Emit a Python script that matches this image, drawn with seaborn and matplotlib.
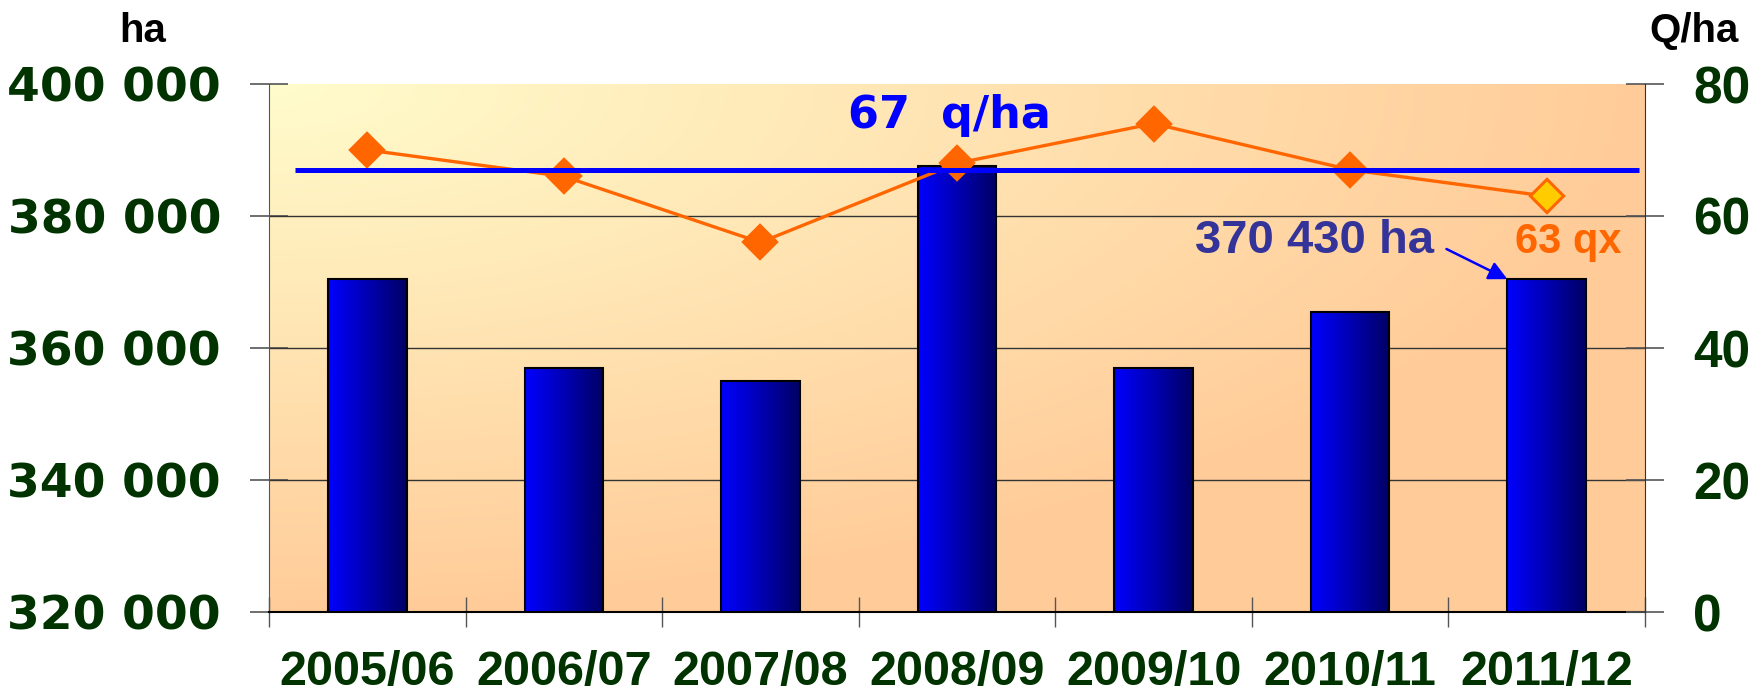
import numpy as np
import matplotlib
matplotlib.use("Agg")
import matplotlib.pyplot as plt
from matplotlib.colors import LinearSegmentedColormap, to_rgb
import seaborn as sns

# data
seasons = ["2005/06", "2006/07", "2007/08", "2008/09", "2009/10", "2010/11", "2011/12"]
areas = [370400, 357000, 355000, 387600, 357000, 365400, 370430]   # ha, left axis
yields = [70, 66, 56, 68, 74, 67, 63]                               # q/ha, right axis
avg_yield = 67
left_ticks = [320000, 340000, 360000, 380000, 400000]
right_ticks = [0, 20, 40, 60, 80]

green = "#003300"
orange = "#FF6600"
blue = "#0000FF"

sns.set_style("white")
plt.rcParams["font.family"] = ["Liberation Sans", "DejaVu Sans"]
plt.rcParams["font.weight"] = "bold"

fig = plt.figure(figsize=(17.6, 6.97), dpi=100)
ax = fig.add_axes([269 / 1760, 85 / 697, 1376 / 1760, 528 / 697])
ax2 = ax.twinx()

n = len(seasons)
ax.set_xlim(-0.5, n - 0.5)
ax.set_ylim(left_ticks[0], left_ticks[-1])

# background gradient: pale yellow top-left to peach right/bottom
gx, gy = np.meshgrid(np.linspace(0, 1, 400), np.linspace(0, 1, 200))
t = np.clip(np.sqrt(gx ** 2 + gy ** 2), 0, 1)[..., None]
c0 = np.array(to_rgb("#FFFCCC"))
c1 = np.array(to_rgb("#FFCC99"))
bg = c0 * (1 - t) + c1 * t
ax.imshow(bg, extent=[-0.5, n - 0.5, left_ticks[0], left_ticks[-1]],
          aspect="auto", origin="upper", zorder=0)

# grid lines
for v in left_ticks[1:-1]:
    ax.axhline(v, color="#333333", lw=1.0, zorder=1)

# bars
sns.barplot(x=seasons, y=areas, ax=ax, width=0.4, color=blue,
            edgecolor="black", linewidth=1.5, zorder=3)
bar_cmap = LinearSegmentedColormap.from_list("bars", [blue, "#000066"])
grad = np.linspace(0, 1, 100)[None, :]
for p in ax.patches:
    x0 = p.get_x()
    w = p.get_width()
    h = p.get_height()
    ax.imshow(grad, cmap=bar_cmap, extent=[x0, x0 + w, 0, h], aspect="auto", zorder=2)
    p.set_facecolor("none")
ax.set_xlim(-0.5, n - 0.5)
ax.set_ylim(left_ticks[0], left_ticks[-1])

# yield line
sns.pointplot(x=seasons, y=yields, ax=ax2, color=orange, markers="D",
              markersize=17, linewidth=2.4, errorbar=None)
ax2.plot(n - 1, yields[-1], marker="D", markersize=16, color="#FFCC00",
         markeredgecolor=orange, markeredgewidth=1.5, zorder=5)
ax2.hlines(avg_yield, -0.37, n - 0.53, color=blue, lw=3.6, zorder=4)
ax2.set_ylim(right_ticks[0], right_ticks[-1])
ax2.set_xlim(-0.5, n - 0.5)

# axes styling
for a in (ax, ax2):
    a.set_xlabel("")
    a.set_ylabel("")
    for s in a.spines.values():
        s.set_visible(False)
ax.spines["left"].set_visible(True)
ax.spines["left"].set_color("#555555")
ax.spines["bottom"].set_visible(True)
ax.spines["bottom"].set_color("black")
ax.spines["bottom"].set_linewidth(1.5)
ax2.spines["right"].set_visible(True)
ax2.spines["right"].set_color("#333333")

ax.set_yticks(left_ticks)
ax.set_yticklabels([f"{v:,}".replace(",", " ") for v in left_ticks],
                   fontsize=34, color=green, fontweight="bold", family="DejaVu Sans")
ax.tick_params(axis="y", direction="inout", length=27, width=1.2, color="#555555",
               pad=21, left=True)
ax2.set_yticks(right_ticks)
ax2.set_yticklabels([str(v) for v in right_ticks], fontsize=37, color=green, fontweight="bold")
ax2.tick_params(axis="y", direction="inout", length=27, width=1.2, color="#555555",
                pad=21, right=True)

ax.set_xticks(range(n))
ax.set_xticklabels(seasons, fontsize=35, color=green, fontweight="bold")
ax.set_xticks(np.arange(n + 1) - 0.5, minor=True)
ax.tick_params(axis="x", which="major", length=0, pad=27)
ax.tick_params(axis="x", which="minor", direction="inout", length=22, width=1, color="#555555",
               bottom=True)
ax2.tick_params(axis="x", which="both", bottom=False, top=False, labelbottom=False)

# annotations
ax2.text(2.96, 75.3, "67  q/ha", color=blue, fontsize=32, fontweight="bold",
         family="DejaVu Sans", ha="center", va="center", zorder=6)
ax.text(5.426, 376200, "370 430 ha", color="#333399", fontsize=34, fontweight="bold",
        ha="right", va="center", zorder=6)
ax.annotate("", xy=(n - 1 - 0.2, areas[-1]), xytext=(5.49, 375000),
            arrowprops=dict(arrowstyle="-|>", color=blue, lw=1.8, mutation_scale=28,
                            shrinkA=0, shrinkB=0), zorder=6)
ax2.text(6.11, 56.1, f"{yields[-1]} qx", color=orange, fontsize=30, fontweight="bold",
         ha="center", va="center", zorder=6)

fig.text(143 / 1760, 1 - 31 / 697, "ha", fontsize=29, fontweight="bold", color="black",
         ha="center", va="center")
fig.text(1694 / 1760, 1 - 31 / 697, "Q/ha", fontsize=29, fontweight="bold", color="black",
         ha="center", va="center")

ax.set_zorder(1)
ax2.set_zorder(2)
ax2.patch.set_visible(False)

fig.savefig("out.png", dpi=100)
